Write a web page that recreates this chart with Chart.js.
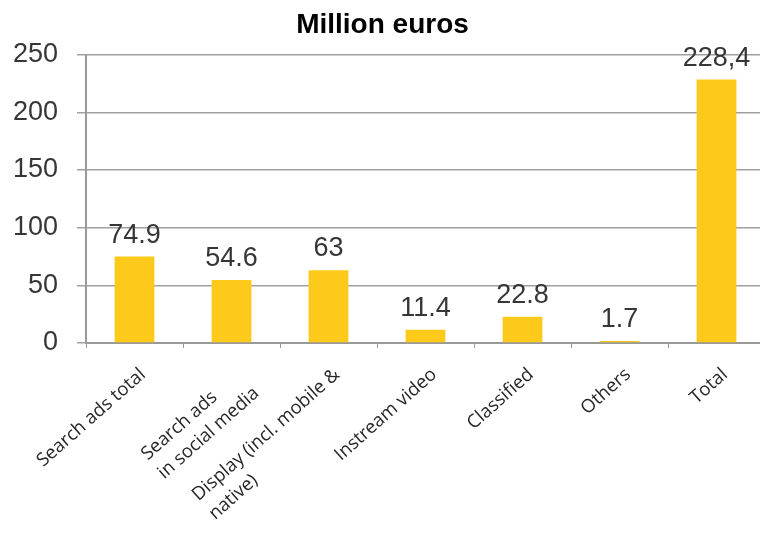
<!DOCTYPE html>
<html>
<head>
<meta charset="utf-8">
<script src="https://cdn.jsdelivr.net/npm/chart.js@4/dist/chart.umd.min.js"></script>
<style>
html,body{margin:0;padding:0;overflow:hidden;background:#fff;width:760px;height:533px;}
#wrap{width:784px;height:533px;}
</style>
</head>
<body>
<div id="wrap"><canvas id="c" width="784" height="533"></canvas></div>
<script>
const categories = [
  "Search ads total",
  ["Search ads", "in social media"],
  ["Display (incl. mobile &", "native)"],
  "Instream video",
  "Classified",
  "Others",
  "Total"
];
const values = [74.9, 54.6, 63, 11.4, 22.8, 1.7, 228.4];
const valueLabels = ["74.9", "54.6", "63", "11.4", "22.8", "1.7", "228,4"];
const yTicks = [0, 50, 100, 150, 200, 250];
const titleText = "Million euros";

const dataLabelPlugin = {
  id: 'dataLabels',
  afterDatasetsDraw(chart) {
    const ctx = chart.ctx;
    const meta = chart.getDatasetMeta(0);
    ctx.save();
    ctx.font = '27px "Liberation Sans", Arial, sans-serif';
    ctx.fillStyle = '#363636';
    ctx.textAlign = 'center';
    ctx.textBaseline = 'alphabetic';
    meta.data.forEach((bar, i) => {
      ctx.fillText(valueLabels[i], bar.x, bar.y - 14);
    });
    ctx.restore();
  }
};

const xLabelPlugin = {
  id: 'xLabels',
  afterDraw(chart) {
    const xs = chart.scales.x;
    const ctx = chart.ctx;
    const ang = 41.5 * Math.PI / 180;
    ctx.save();
    ctx.font = '18.5px "Open Sans", sans-serif';
    ctx.fillStyle = '#262626';
    ctx.textAlign = 'left';
    ctx.textBaseline = 'alphabetic';
    categories.forEach((lab, i) => {
      const lines = Array.isArray(lab) ? lab : [lab];
      const W = Math.max(...lines.map(l => ctx.measureText(l).width));
      const x = xs.getPixelForValue(i) + 12;
      const y = xs.top + 33;
      ctx.save();
      ctx.translate(x, y);
      ctx.rotate(-ang);
      lines.forEach((l, j) => ctx.fillText(l, -W, j * 25));
      ctx.restore();
    });
    ctx.restore();
  }
};

new Chart(document.getElementById('c'), {
  type: 'bar',
  data: {
    labels: categories,
    datasets: [{
      data: values,
      backgroundColor: '#FDC91A',
      borderWidth: 0,
      barPercentage: 0.41,
      categoryPercentage: 1.0
    }]
  },
  options: {
    responsive: false,
    animation: false,
    devicePixelRatio: 1,
    layout: { padding: { left: 0, right: 19, top: 0, bottom: 0 } },
    plugins: {
      legend: { display: false },
      tooltip: { enabled: false },
      title: {
        display: true,
        text: titleText,
        color: '#000',
        font: { family: '"Liberation Sans", Arial, sans-serif', size: 28, weight: 'bold' },
        padding: { top: 8, bottom: 13 }
      }
    },
    scales: {
      x: {
        grid: { display: true, drawOnChartArea: false, color: '#999', tickLength: 5, lineWidth: 1 },
        border: { display: true, color: '#999', width: 2 },
        ticks: { display: false },
        afterFit(scale) { scale.height = 190; }
      },
      y: {
        min: 0, max: 250,
        afterBuildTicks(scale) { scale.ticks = yTicks.map(v => ({ value: v })); },
        grid: { color: '#a0a0a0', lineWidth: 1.5, tickLength: 9 },
        border: { display: true, color: '#999', width: 2 },
        ticks: {
          color: '#363636',
          font: { family: '"Liberation Sans", Arial, sans-serif', size: 27 },
          padding: 19
        },
        afterFit(scale) { scale.width = 86; }
      }
    }
  },
  plugins: [dataLabelPlugin, xLabelPlugin]
});
</script>
</body>
</html>
